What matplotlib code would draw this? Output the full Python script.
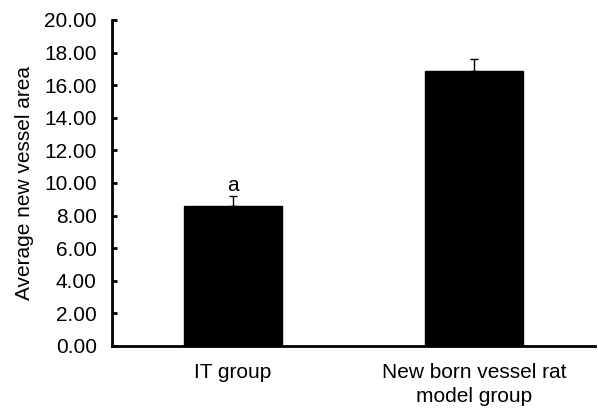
import matplotlib
matplotlib.use("Agg")
import matplotlib.pyplot as plt
from matplotlib.ticker import FormatStrFormatter, MultipleLocator

categories = ["IT group", "New born vessel rat\nmodel group"]
values = [8.59, 16.85]
errors = [0.63, 0.74]
annotations = ["a", ""]

plt.rcParams['font.family'] = ['Liberation Sans', 'DejaVu Sans']

fig = plt.figure(figsize=(5.98, 4.08), dpi=100)
ax = fig.add_axes([0.1873, 0.152, 0.995 - 0.1873, 0.951 - 0.152])

x = list(range(len(categories)))
ax.bar(x, values, width=0.405, color='black', edgecolor='black', zorder=2)
ax.errorbar(x, values, yerr=[[0] * len(errors), errors], fmt='none',
            ecolor='black', elinewidth=1.0, capsize=2.6, capthick=1.0, zorder=3)

for xi, v, e, t in zip(x, values, errors, annotations):
    if t:
        ax.text(xi, v + e + 0.28, t, ha='center', va='baseline', fontsize=15)

ax.set_xlim(-0.5, 1.5)
ax.set_ylim(0, 20)
ax.yaxis.set_major_locator(MultipleLocator(2))
ax.yaxis.set_major_formatter(FormatStrFormatter('%.2f'))
ax.set_xticks(x)
ax.set_xticklabels(categories, fontsize=15, linespacing=1.35)
ax.tick_params(axis='x', length=0, pad=12)
ax.tick_params(axis='y', direction='in', length=3.5, width=2, labelsize=15, pad=11)

for s in ['top', 'right']:
    ax.spines[s].set_visible(False)
for s in ['left', 'bottom']:
    ax.spines[s].set_linewidth(2)

ax.set_ylabel("Average new vessel area", fontsize=15, labelpad=7)

fig.savefig("out.png", dpi=100)
